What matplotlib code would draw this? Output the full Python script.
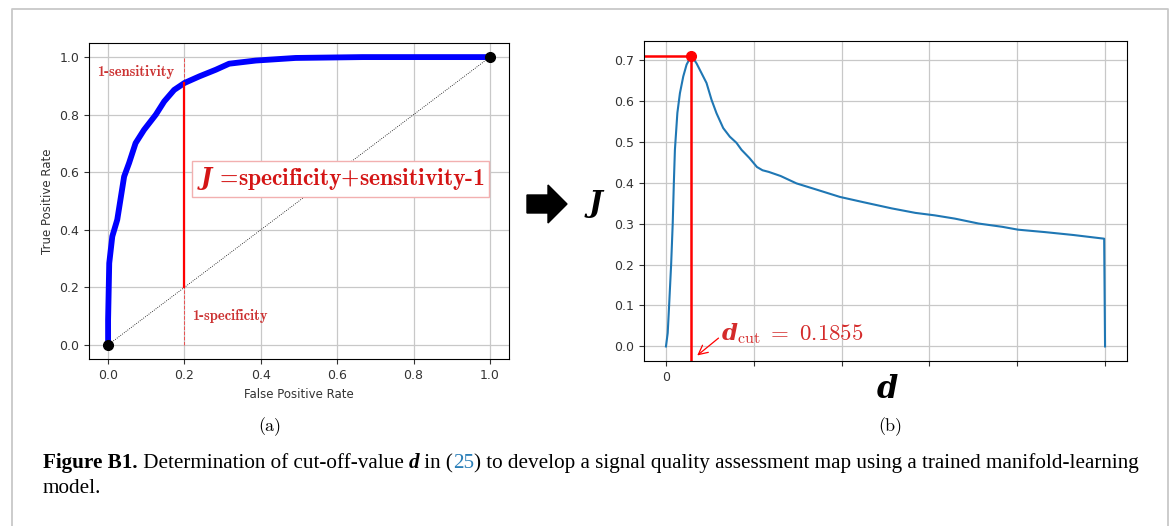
import numpy as np
import matplotlib
matplotlib.use('Agg')
import matplotlib.pyplot as plt
from matplotlib.lines import Line2D
from matplotlib.patches import Polygon

# ROC curve (panel a)
fpr = [0.0, 0.0, 0.003, 0.011, 0.024, 0.042, 0.055, 0.072, 0.094, 0.125, 0.147,
       0.173, 0.2, 0.239, 0.282, 0.317, 0.387, 0.491, 0.666, 1.0]
tpr = [0.0, 0.087, 0.284, 0.377, 0.435, 0.585, 0.632, 0.701, 0.747, 0.800, 0.846,
       0.886, 0.91, 0.933, 0.956, 0.977, 0.988, 0.997, 1.0, 1.0]
fpr_cut = 0.2
tpr_cut = 0.91
roc_ticks = [0.0, 0.2, 0.4, 0.6, 0.8, 1.0]

# Youden J against d (panel b)
d_vals = [0.0, 0.02, 0.036, 0.059, 0.077, 0.09, 0.102, 0.13, 0.159, 0.197, 0.235, 0.29,
          0.348, 0.405, 0.462, 0.519, 0.576, 0.652, 0.727, 0.803, 0.86, 0.95, 1.036,
          1.10, 1.171, 1.306, 1.486, 1.712, 1.98, 2.25, 2.57, 2.84, 3.06, 3.29, 3.56,
          3.83, 4.01, 4.32, 4.64, 4.99, 5.0]
j_vals = [0.0, 0.033, 0.1, 0.2, 0.3, 0.4, 0.48, 0.57, 0.618, 0.659, 0.688, 0.71,
          0.691, 0.667, 0.643, 0.602, 0.569, 0.533, 0.512, 0.497, 0.48, 0.46, 0.438,
          0.43, 0.426, 0.416, 0.398, 0.383, 0.365, 0.352, 0.337, 0.326, 0.320, 0.312, 0.300,
          0.292, 0.285, 0.279, 0.272, 0.263, 0.0]
d_ticks = [0, 1, 2, 3, 4, 5]
d_ticklabels = ['0', '', '', '', '', '']
j_ticks = [0.0, 0.1, 0.2, 0.3, 0.4, 0.5, 0.6, 0.7]

plt.rcParams['mathtext.rm'] = 'cmr10'
plt.rcParams['mathtext.bf'] = 'cmb10'
plt.rcParams['mathtext.bfit'] = 'DejaVu Serif:italic:bold'

W, H = 1171, 526
fig = plt.figure(figsize=(W / 100, H / 100), dpi=100)

# page frame
fig.add_artist(Line2D([12 / W, 12 / W, 1168 / W, 1168 / W], [0, 1 - 9 / H, 1 - 9 / H, 0],
                      transform=fig.transFigure, color='#c8c8c8', lw=1.3))

# ---- panel (a)
ax1 = fig.add_axes([89 / W, 1 - 359.3 / H, 420 / W, 316.6 / H])
ax1.plot(fpr, tpr, color='blue', lw=4.2, solid_capstyle='round', zorder=3)
ax1.plot([0, 1], [0, 1], ':', color='black', lw=0.6)
ax1.plot([0, 1], [0, 1], 'o', color='black', ms=7, zorder=4)
ax1.plot([fpr_cut, fpr_cut], [0, 1], '--', color='red', lw=0.7, alpha=0.6)
ax1.plot([fpr_cut, fpr_cut], [fpr_cut, tpr_cut], color='red', lw=1.6, zorder=3.5)
ax1.set_xticks(roc_ticks)
ax1.set_yticks(roc_ticks)
ax1.tick_params(labelsize=9, colors='#333333')
ax1.set_xlabel('False Positive Rate', fontsize=8.5, color='#333333')
ax1.set_ylabel('True Positive Rate', fontsize=8.5, color='#333333')
ax1.grid(True, color='#c8c8c8', lw=0.9)
ax1.text(-0.03, 0.948, '1-sensitivity', fontfamily='cmb10', fontsize=10.5, color='#cc3333',
         va='center', ha='left')
ax1.text(0.219, 0.102, '1-specificity', fontfamily='cmb10', fontsize=10.5, color='#cc3333',
         va='center', ha='left')
ax1.text(0.232, 0.577, r'$\mathbfit{J}$ =specificity+sensitivity-1', fontfamily='cmb10',
         math_fontfamily='custom', fontsize=17, color='#d41515', va='center', ha='left',
         bbox=dict(boxstyle='square,pad=0.2', fc='white', ec='#f2b0b0', lw=1))

# ---- panel (b)
ax2 = fig.add_axes([644 / W, 1 - 361 / H, 483 / W, 320 / H])
ax2.plot(d_vals, j_vals, color='#1f77b4', lw=1.5)
k = int(np.argmax(j_vals))
ax2.set_xlim(-0.25, 5.25)
ax2.set_ylim(-0.0355, 0.7455)
ax2.plot([-0.25, d_vals[k]], [j_vals[k], j_vals[k]], color='red', lw=1.8)
ax2.plot([d_vals[k], d_vals[k]], [-0.0355, j_vals[k]], color='red', lw=1.8)
ax2.plot(d_vals[k], j_vals[k], 'o', color='red', ms=7, zorder=4)
ax2.set_xticks(d_ticks)
ax2.set_xticklabels(d_ticklabels)
ax2.set_yticks(j_ticks)
ax2.tick_params(labelsize=9, colors='#333333')
ax2.grid(True, color='#c8c8c8', lw=0.9)
ax2.annotate(r'$\mathbfit{d}_{\mathrm{cut}}\;=\;0.1855$', xy=(0.356, -0.022), xytext=(0.63, 0.016),
             math_fontfamily='custom', fontsize=16.5, color='#d42a2a', va='baseline',
             arrowprops=dict(arrowstyle='->', color='red', lw=0.9, shrinkA=0, shrinkB=0,
                             relpos=(0, 0.4)))

fig.text(595 / W, 1 - 203 / H, 'J', fontfamily='DejaVu Serif', style='italic', weight='bold',
         fontsize=21, ha='center', va='center')
fig.text(887 / W, 1 - 389 / H, 'd', fontfamily='DejaVu Serif', style='italic', weight='bold',
         fontsize=22, ha='center', va='center')

# block arrow between panels
arrow_px = [(527, 195), (548, 195), (548, 185), (567, 204), (548, 223), (548, 213), (527, 213)]
fig.add_artist(Polygon([(x / W, 1 - y / H) for x, y in arrow_px], closed=True,
                       transform=fig.transFigure, color='black'))

fig.text(270 / W, 1 - 427 / H, '(a)', fontfamily='cmr10', fontsize=13, ha='center', va='center')
fig.text(890 / W, 1 - 427 / H, '(b)', fontfamily='cmr10', fontsize=13, ha='center', va='center')

# caption
renderer = fig.canvas.get_renderer()
cap = 15.2
pieces = [('Figure B1.', dict(weight='bold')),
          (' Determination of cut-off-value ', {}),
          ('d', dict(weight='bold', style='italic')),
          (' in (', {}),
          ('25', dict(color='#2a7fb8')),
          (') to develop a signal quality assessment map using a trained manifold-learning', {})]
x = 43 / W
for s, kw in pieces:
    t = fig.text(x, 1 - 468 / H, s, fontfamily='Liberation Serif', fontsize=cap,
                 va='baseline', ha='left', **kw)
    x += t.get_window_extent(renderer).width / W
fig.text(43 / W, 1 - 493 / H, 'model.', fontfamily='Liberation Serif', fontsize=cap,
         va='baseline', ha='left')

fig.savefig('out.png', dpi=100)
